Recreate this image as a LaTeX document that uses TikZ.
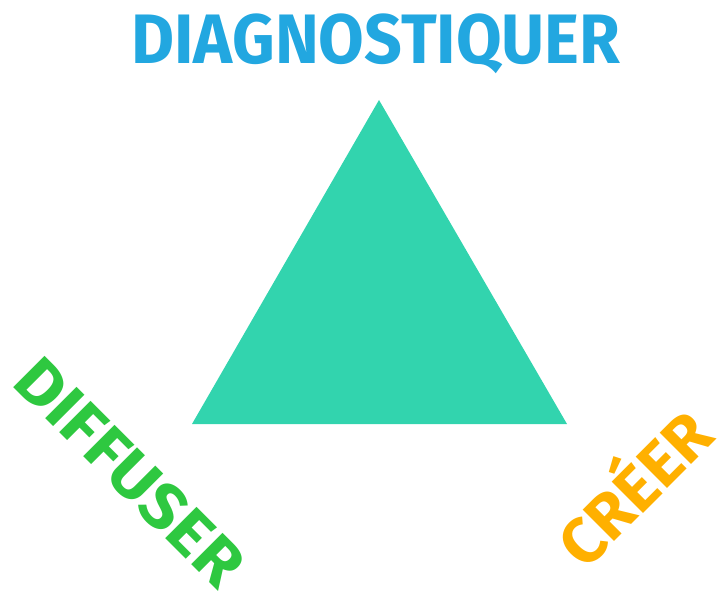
\documentclass[tikz,border=0pt]{standalone}
\usepackage{fontspec}
\setmainfont{Fira Sans}
\definecolor{cblue}{HTML}{22A7E0}
\definecolor{cgreen}{HTML}{2EC840}
\definecolor{corange}{HTML}{FFB000}
\definecolor{cteal}{HTML}{32D4AE}
\tikzset{
  lbl/.style={inner sep=0pt, font=\fontsize{70}{70}\selectfont\bfseries},
  sidelbl/.style={lbl, font=\fontsize{64}{64}\selectfont\bfseries},
}
\begin{document}
\begin{tikzpicture}[x=1pt,y=-1pt]
\useasboundingbox (0,0) rectangle (720,596);
\fill[cteal] (379,100) coordinate (apex) -- (567,424) coordinate (br) -- (192,424) coordinate (bl) -- cycle;
\node[lbl, text=cblue, anchor=base] (diag) at (376,64) {\scalebox{0.945}[1]{DIAGNOSTIQUER}};
\node[sidelbl, text=cgreen, rotate=-45] (diff) at (130,472) {\scalebox{1.07}[1]{DIFFUSER}};
\node[sidelbl, text=corange, rotate=45] (creer) at (630,484) {\scalebox{1.02}[1]{CRÉER}};
\end{tikzpicture}
\end{document}
